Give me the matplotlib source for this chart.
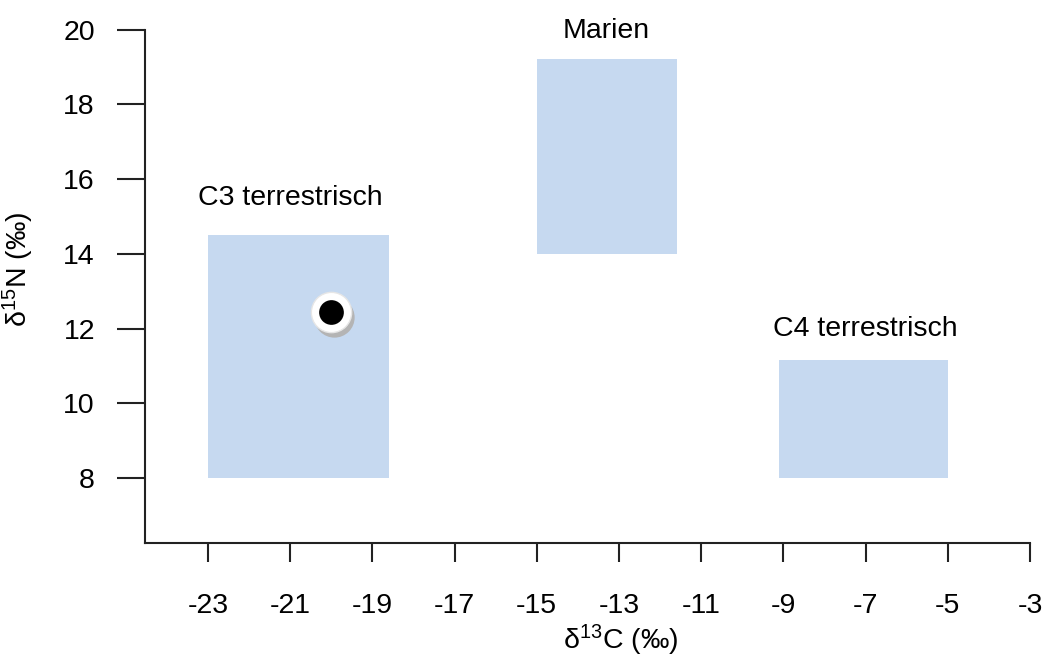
import matplotlib
matplotlib.use("Agg")
import matplotlib.pyplot as plt
import matplotlib.transforms as mtransforms
from matplotlib.patches import Rectangle

plt.rcParams['font.family'] = ['Liberation Sans', 'DejaVu Sans']
plt.rcParams['mathtext.fontset'] = 'custom'
plt.rcParams['mathtext.rm'] = 'Liberation Sans'
plt.rcParams['mathtext.it'] = 'Liberation Sans:italic'
plt.rcParams['axes.unicode_minus'] = False

# source ranges
groups = ["C3 terrestrisch", "Marien", "C4 terrestrisch"]
x_min = [-23.0, -15.0, -9.1]
x_max = [-18.6, -11.6, -5.0]
y_min = [8.0, 14.0, 8.0]
y_max = [14.5, 19.2, 11.15]
label_x = [-21.0, -13.3, -7.0]
label_y = [15.3, 19.77, 11.8]

# sample
sample_x = [-20.0]
sample_y = [12.45]

xticks = list(range(-23, -2, 2))
yticks = [8, 10, 12, 14, 16, 18, 20]

fs = 20.5
box_color = "#c6d9f0"
axis_color = "#222222"

fig = plt.figure(figsize=(10.53, 6.66), dpi=100)
ax = fig.add_axes([0.1377, 0.1847, 0.8405, 0.771])

for i in range(len(groups)):
    ax.add_patch(Rectangle((x_min[i], y_min[i]), x_max[i] - x_min[i],
                           y_max[i] - y_min[i], facecolor=box_color,
                           edgecolor="none", zorder=1))
    ax.text(label_x[i], label_y[i], groups[i], ha="center", va="baseline",
            fontsize=fs, color="black")

# shadow, white ring, black dot
shadow = mtransforms.offset_copy(ax.transData, fig=fig, x=3, y=-5, units="dots")
ax.plot(sample_x, sample_y, "o", ms=29, color="#b4b4b4", mec="none",
        transform=shadow, zorder=3)
ax.plot(sample_x, sample_y, "o", ms=29, color="white", mec="#e6e6e6",
        mew=1.0, zorder=4)
ax.plot(sample_x, sample_y, "o", ms=17.8, color="black", mec="none", zorder=5)

ax.set_xlim(-24.53, -3)
ax.set_ylim(6.27, 20)

ax.set_xticks(xticks)
ax.set_xticklabels([str(t) for t in xticks])
ax.set_yticks(yticks)
ax.set_yticklabels([str(t) for t in yticks])

for s in ["top", "right"]:
    ax.spines[s].set_visible(False)
for s in ["left", "bottom"]:
    ax.spines[s].set_color(axis_color)
    ax.spines[s].set_linewidth(1.5)

ax.tick_params(axis="x", length=14, width=1.5, color=axis_color,
               labelsize=fs, pad=22)
ax.tick_params(axis="y", length=20, width=1.5, color=axis_color,
               labelsize=fs, pad=16)

ax.set_xlabel("δ$^{13}$C (‰)", fontsize=fs)
ax.set_ylabel("δ$^{15}$N (‰)", fontsize=fs)
ax.xaxis.set_label_coords(0.537, -0.19)
ax.yaxis.set_label_coords(-0.1435, 0.532)
ax.xaxis.label.set_va("center")
ax.yaxis.label.set_va("center")

fig.savefig("out.png", dpi=100)
